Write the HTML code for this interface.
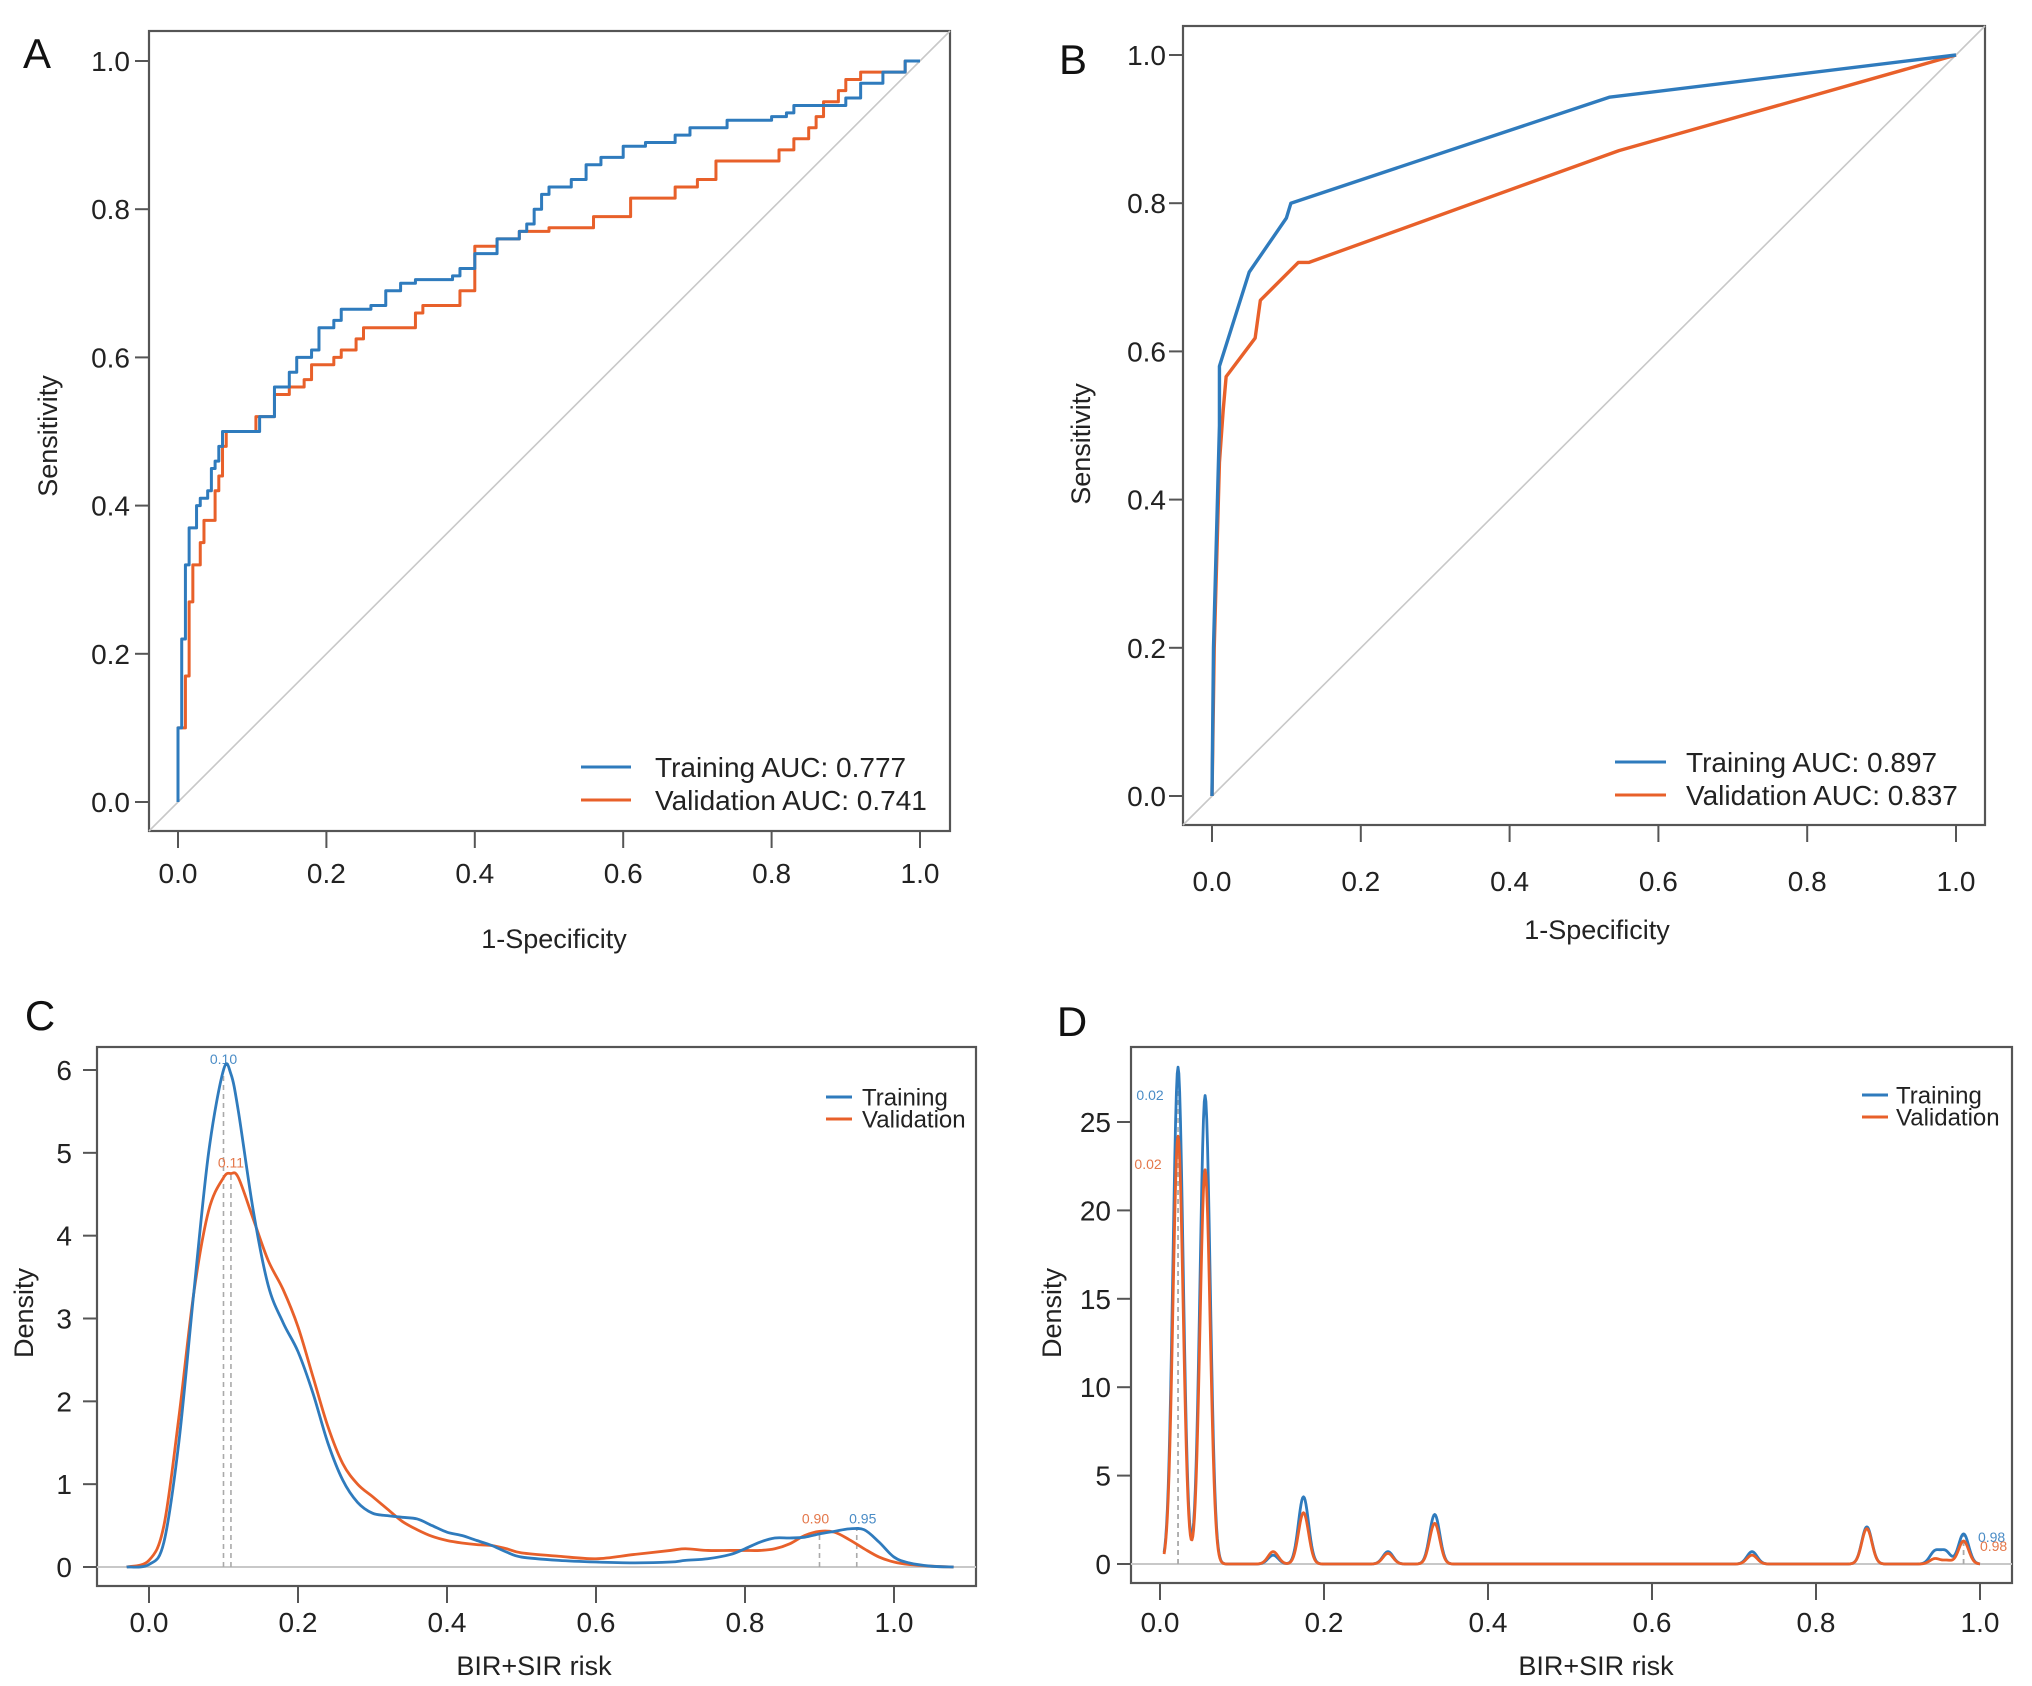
<!DOCTYPE html>
<html><head><meta charset="utf-8">
<style>
html,body{margin:0;padding:0;background:#fff;}
svg{display:block;font-family:"Liberation Sans",Arial,sans-serif;}
</style></head>
<body>
<svg id="fig" width="2032" height="1686" viewBox="0 0 2032 1686" xmlns="http://www.w3.org/2000/svg">
<rect x="0" y="0" width="2032" height="1686" fill="#ffffff"/>
</svg>
<script>
// ---------- Panel A data (ROC, step curves) ----------
const aTrainFpr=[0,0,0.005,0.005,0.01,0.015,0.02,0.025,0.03,0.04,0.045,0.05,0.055,0.06,0.1,0.11,0.125,0.13,0.15,0.16,0.18,0.19,0.21,0.22,0.26,0.28,0.30,0.32,0.37,0.38,0.40,0.43,0.46,0.47,0.48,0.49,0.5,0.53,0.55,0.57,0.6,0.63,0.67,0.69,0.73,0.74,0.8,0.82,0.83,0.9,0.92,0.95,0.98,0.98,1];
const aTrainTpr=[0,0.10,0.14,0.22,0.32,0.37,0.37,0.40,0.41,0.42,0.45,0.46,0.48,0.50,0.50,0.52,0.52,0.56,0.58,0.60,0.61,0.64,0.65,0.665,0.67,0.69,0.70,0.705,0.71,0.72,0.74,0.76,0.77,0.78,0.80,0.82,0.83,0.84,0.86,0.87,0.885,0.89,0.90,0.91,0.91,0.92,0.925,0.93,0.94,0.95,0.97,0.985,0.99,1,1];
const aValFpr=[0,0,0.01,0.01,0.015,0.02,0.03,0.035,0.045,0.05,0.055,0.06,0.065,0.1,0.105,0.125,0.13,0.15,0.17,0.18,0.205,0.21,0.22,0.24,0.25,0.31,0.32,0.33,0.37,0.38,0.4,0.4,0.43,0.46,0.5,0.55,0.56,0.6,0.61,0.66,0.67,0.69,0.7,0.72,0.725,0.8,0.81,0.83,0.85,0.86,0.87,0.89,0.9,0.92,0.97,0.98,1];
const aValTpr=[0,0.1,0.1,0.17,0.27,0.32,0.35,0.38,0.38,0.42,0.44,0.48,0.5,0.5,0.52,0.52,0.55,0.56,0.57,0.59,0.59,0.60,0.61,0.625,0.64,0.64,0.66,0.67,0.67,0.69,0.70,0.75,0.76,0.77,0.775,0.775,0.79,0.79,0.815,0.815,0.83,0.83,0.84,0.84,0.865,0.865,0.88,0.895,0.91,0.925,0.945,0.96,0.975,0.985,0.985,1,1];
const aLegend=["Training AUC: 0.777","Validation AUC: 0.741"];
// ---------- Panel B data (ROC, polylines) ----------
const bTrainFpr=[0,0.002,0.01,0.01,0.05,0.1,0.106,0.534,1];
const bTrainTpr=[0,0.2,0.5,0.58,0.707,0.78,0.80,0.943,1];
const bValFpr=[0,0.003,0.01,0.015,0.019,0.058,0.065,0.116,0.13,0.547,1];
const bValTpr=[0,0.2,0.45,0.52,0.566,0.618,0.669,0.72,0.72,0.871,1];
const bLegend=["Training AUC: 0.897","Validation AUC: 0.837"];
// ---------- Panel C data (density) ----------
const cX=[-0.03,0,0.02,0.04,0.06,0.08,0.10,0.11,0.12,0.14,0.16,0.18,0.20,0.22,0.24,0.26,0.28,0.30,0.32,0.34,0.36,0.38,0.40,0.42,0.44,0.46,0.48,0.50,0.55,0.60,0.65,0.70,0.72,0.75,0.78,0.80,0.82,0.84,0.86,0.88,0.90,0.92,0.94,0.96,0.98,1.00,1.02,1.05,1.08];
const cTrain=[0,0.03,0.3,1.5,3.3,5.0,6.0,5.95,5.5,4.3,3.4,2.95,2.6,2.1,1.5,1.05,0.78,0.65,0.62,0.6,0.58,0.5,0.42,0.38,0.32,0.26,0.18,0.12,0.08,0.06,0.05,0.06,0.08,0.1,0.15,0.22,0.3,0.35,0.35,0.36,0.4,0.43,0.46,0.45,0.3,0.12,0.05,0.01,0];
const cVal=[0,0.08,0.5,1.8,3.3,4.3,4.7,4.75,4.7,4.2,3.7,3.35,2.9,2.3,1.7,1.25,1.0,0.85,0.7,0.55,0.45,0.37,0.32,0.29,0.27,0.26,0.22,0.17,0.13,0.1,0.15,0.2,0.22,0.2,0.2,0.2,0.2,0.22,0.28,0.38,0.43,0.42,0.33,0.22,0.12,0.06,0.03,0.01,0];
const cTrainModes=[0.10,0.95];
const cValModes=[0.11,0.90];
const cTrainModeLabels=["0.10","0.95"];
const cValModeLabels=["0.11","0.90"];
// ---------- Panel D data (density as kernel peaks) ----------
const dTrainCenters=[0.022,0.055,0.138,0.175,0.278,0.335,0.722,0.862,0.945,0.958,0.98];
const dTrainHeights=[28.1,26.5,0.5,3.8,0.7,2.8,0.7,2.1,0.7,0.7,1.7];
const dValCenters=[0.022,0.055,0.138,0.175,0.278,0.335,0.722,0.862,0.945,0.96,0.98];
const dValHeights=[24.2,22.3,0.7,2.9,0.6,2.3,0.5,2.0,0.3,0.2,1.3];
const dTrainModes=[0.022,0.98];
const dValModes=[0.022,0.98];
const dTrainModeLabels=["0.02","0.98"];
const dValModeLabels=["0.02","0.98"];
const dBandwidth=0.0062;

const NS="http://www.w3.org/2000/svg";
const svg=document.getElementById('fig');
const BLUE="#2f7bbd", ORANGE="#e8602a", AX="#555";
function mk(tag,attrs,parent){const e=document.createElementNS(NS,tag);for(const k in attrs)e.setAttribute(k,attrs[k]);(parent||svg).appendChild(e);return e;}
function txt(s,attrs,parent){const e=mk('text',attrs,parent);e.textContent=s;return e;}
function lin(a,b,c,d){return v=>c+(v-a)*(d-c)/(b-a);}

function panel(cfg){
  const g=mk('g',{});
  
  
  const r=mk('rect',{x:cfg.L,y:cfg.T,width:cfg.R-cfg.L,height:cfg.B-cfg.T,fill:'none',stroke:AX,'stroke-width':2.2},g);
  
  
  const xs=lin(cfg.xmin,cfg.xmax,cfg.x0,cfg.x1), ys=lin(cfg.ymin,cfg.ymax,cfg.y0,cfg.y1);
  cfg.xTicks.forEach((t,i)=>{
    const l=mk('line',{x1:xs(t),x2:xs(t),y1:cfg.B,y2:cfg.B+17,stroke:AX,'stroke-width':2},g);
    
    
    const tx=txt(cfg.xLabels[i],{x:xs(t),y:cfg.xLabY,'text-anchor':'middle','font-size':28,fill:'#222'},g);
    
    
  });
  cfg.yTicks.forEach((t,i)=>{
    const l=mk('line',{x1:cfg.L,x2:cfg.L-14,y1:ys(t),y2:ys(t),stroke:AX,'stroke-width':2},g);
    
    
    const tx=txt(cfg.yLabels[i],{x:cfg.yLabX,y:ys(t)+10,'text-anchor':'end','font-size':28,fill:'#222'},g);
    
    
  });
  const xt=txt(cfg.xTitle,{x:cfg.xTitleX,y:cfg.xTitleY,'text-anchor':'middle','font-size':27,fill:'#222'},g);
  
  
  const yt=txt(cfg.yTitle,{x:0,y:0,'text-anchor':'middle','font-size':27,fill:'#222',transform:`translate(${cfg.yTitleX},${cfg.yTitleY}) rotate(-90)`},g);
  
  
  const pl=txt(cfg.letter,{x:cfg.letX,y:cfg.letY,'text-anchor':'middle','font-size':42,fill:'#111'},g);
  
  
  return {g,xs,ys};
}
function legend(g,items,colors,lx1,lx2,tx,rows,fs,sw){
  items.forEach((s,i)=>{
    const l=mk('line',{x1:lx1,x2:lx2,y1:rows[i],y2:rows[i],stroke:colors[i],'stroke-width':sw},g);
    
    
    const t=txt(s,{x:tx,y:rows[i]+fs*0.36,'font-size':fs,fill:'#222'},g);
    
    
  });
}
function path(g,d,color,w,name,extra){
  const p=mk('path',Object.assign({d:d,fill:'none',stroke:color,'stroke-width':w,'stroke-linejoin':'round'},extra||{}),g);
  
  
  return p;
}
function stepD(xa,ya,xs,ys){let d=`M${xs(xa[0])},${ys(ya[0])}`;for(let i=1;i<xa.length;i++){d+=` L${xs(xa[i])},${ys(ya[i-1])} L${xs(xa[i])},${ys(ya[i])}`;}return d;}
function lineD(xa,ya,xs,ys){return xa.map((x,i)=>(i?'L':'M')+xs(x)+','+ys(ya[i])).join(' ');}
function smoothD(xa,ya,xs,ys){
  const P=xa.map((x,i)=>[xs(x),ys(ya[i])]);let d=`M${P[0][0]},${P[0][1]}`;
  for(let i=0;i<P.length-1;i++){const p0=P[i-1]||P[i],p1=P[i],p2=P[i+1],p3=P[i+2]||p2;
    d+=` C${p1[0]+(p2[0]-p0[0])/6},${p1[1]+(p2[1]-p0[1])/6} ${p2[0]-(p3[0]-p1[0])/6},${p2[1]-(p3[1]-p1[1])/6} ${p2[0]},${p2[1]}`;}
  return d;}
const rocTicks=[0,0.2,0.4,0.6,0.8,1.0], rocLabels=["0.0","0.2","0.4","0.6","0.8","1.0"];

// Panel A
{
const P=panel({name:'panel-a-roc',L:149,R:950,T:31,B:831,xmin:0,xmax:1,x0:178,x1:920,ymin:0,ymax:1,y0:802,y1:61,
 xTicks:rocTicks,xLabels:rocLabels,yTicks:rocTicks,yLabels:rocLabels,xLabY:883,yLabX:130,
 xTitle:'1-Specificity',xTitleX:554,xTitleY:948,yTitle:'Sensitivity',yTitleX:57,yTitleY:436,letter:'A',letX:37,letY:68});
const dg=mk('line',{x1:149,y1:831,x2:950,y2:31,stroke:'#c8c8c8','stroke-width':1.6},P.g);

path(P.g,stepD(aValFpr,aValTpr,P.xs,P.ys),ORANGE,3,'validation-roc-curve');
path(P.g,stepD(aTrainFpr,aTrainTpr,P.xs,P.ys),BLUE,3,'training-roc-curve');
legend(P.g,aLegend,[BLUE,ORANGE],581,631,655,[767,800],28,3);
}
// Panel B
{
const P=panel({name:'panel-b-roc',L:1183,R:1985,T:26,B:825,xmin:0,xmax:1,x0:1212,x1:1956,ymin:0,ymax:1,y0:796,y1:55,
 xTicks:rocTicks,xLabels:rocLabels,yTicks:rocTicks,yLabels:rocLabels,xLabY:891,yLabX:1166,
 xTitle:'1-Specificity',xTitleX:1597,xTitleY:939,yTitle:'Sensitivity',yTitleX:1090,yTitleY:444,letter:'B',letX:1073,letY:74});
const dg=mk('line',{x1:1183,y1:825,x2:1985,y2:26,stroke:'#c8c8c8','stroke-width':1.6},P.g);

path(P.g,lineD(bValFpr,bValTpr,P.xs,P.ys),ORANGE,3.4,'validation-roc-curve');
path(P.g,lineD(bTrainFpr,bTrainTpr,P.xs,P.ys),BLUE,3.4,'training-roc-curve');
legend(P.g,bLegend,[BLUE,ORANGE],1615,1666,1686,[762,795],28,3);
}
function modeMarks(g,xs,ys,modes,labels,fn,color,dx,dy){
  modes.forEach((m,i)=>{
    const yv=fn(m);
    const l=mk('line',{x1:xs(m),x2:xs(m),y1:ys(0),y2:ys(yv),stroke:'#aaa','stroke-width':1.6,'stroke-dasharray':'5,4'},g);
    
    
    const t=txt(labels[i],{x:xs(m)+(dx[i]||0),y:ys(yv)+(dy[i]||-6),'text-anchor':'middle','font-size':14,fill:color},g);
    
    
  });
}
function interp(xa,ya,x){for(let i=0;i<xa.length-1;i++){if(x>=xa[i]&&x<=xa[i+1]){const f=(x-xa[i])/(xa[i+1]-xa[i]);return ya[i]+f*(ya[i+1]-ya[i]);}}return 0;}
// Panel C
{
const P=panel({name:'panel-c-density',L:97,R:976,T:1047,B:1586,xmin:0,xmax:1,x0:149,x1:894,ymin:0,ymax:6,y0:1567,y1:1070,
 xTicks:rocTicks,xLabels:rocLabels,yTicks:[0,1,2,3,4,5,6],yLabels:["0","1","2","3","4","5","6"],xLabY:1632,yLabX:72,
 xTitle:'BIR+SIR risk',xTitleX:534,xTitleY:1675,yTitle:'Density',yTitleX:33,yTitleY:1313,letter:'C',letX:40,letY:1030});
const bl=mk('line',{x1:97,x2:976,y1:1567,y2:1567,stroke:'#c8c8c8','stroke-width':2},P.g);

modeMarks(P.g,P.xs,P.ys,cTrainModes,cTrainModeLabels,x=>interp(cX,cTrain,x),'#4a8cc6',[0,6],[-6,-6]);
modeMarks(P.g,P.xs,P.ys,cValModes,cValModeLabels,x=>interp(cX,cVal,x),'#e4774a',[0,-4],[-6,-8]);
path(P.g,smoothD(cX,cVal,P.xs,P.ys),ORANGE,2.8,'validation-density-curve');
path(P.g,smoothD(cX,cTrain,P.xs,P.ys),BLUE,2.8,'training-density-curve');
legend(P.g,["Training","Validation"],[BLUE,ORANGE],826,852,862,[1097,1119],24,3);
}
// Panel D
{
const P=panel({name:'panel-d-density',L:1131,R:2012,T:1047,B:1583,xmin:0,xmax:1,x0:1160,x1:1980,ymin:0,ymax:25,y0:1564,y1:1122,
 xTicks:rocTicks,xLabels:rocLabels,yTicks:[0,5,10,15,20,25],yLabels:["0","5","10","15","20","25"],xLabY:1632,yLabX:1111,
 xTitle:'BIR+SIR risk',xTitleX:1596,xTitleY:1675,yTitle:'Density',yTitleX:1061,yTitleY:1313,letter:'D',letX:1072,letY:1036});
const bl=mk('line',{x1:1131,x2:2012,y1:1564,y2:1564,stroke:'#c8c8c8','stroke-width':2},P.g);

const kd=(cs,hs)=>x=>cs.reduce((s,c,i)=>s+hs[i]*Math.exp(-0.5*((x-c)/dBandwidth)**2),0);
const ft=kd(dTrainCenters,dTrainHeights), fv=kd(dValCenters,dValHeights);
const grid=[];for(let x=0.005;x<=1.0001;x+=0.001)grid.push(x);
modeMarks(P.g,P.xs,P.ys,[dTrainModes[0]],[dTrainModeLabels[0]],ft,'#4a8cc6',[-28],[33]);
modeMarks(P.g,P.xs,P.ys,[dValModes[0]],[dValModeLabels[0]],fv,'#e4774a',[-30],[33]);
modeMarks(P.g,P.xs,P.ys,[dTrainModes[1]],[dTrainModeLabels[1]],ft,'#4a8cc6',[28],[8]);
modeMarks(P.g,P.xs,P.ys,[dValModes[1]],[dValModeLabels[1]],fv,'#e4774a',[30],[10]);
path(P.g,lineD(grid,grid.map(ft),P.xs,P.ys),BLUE,2.8,'training-density-curve');
path(P.g,lineD(grid,grid.map(fv),P.xs,P.ys),ORANGE,2.8,'validation-density-curve');
legend(P.g,["Training","Validation"],[BLUE,ORANGE],1862,1888,1896,[1095,1117],24,3);
}
</script>
</body></html>
